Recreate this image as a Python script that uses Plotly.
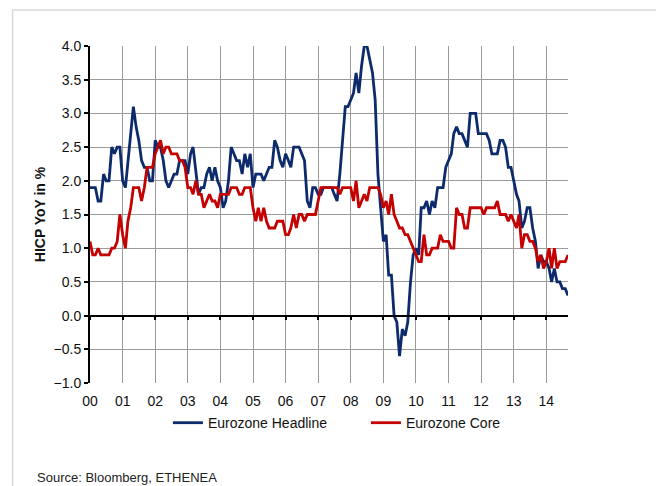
import pandas as pd
import plotly.graph_objects as go

# monthly HICP YoY in %, Jan 2000 - Sep 2014 (one row per year)
headline = [
    1.9, 1.9, 1.9, 1.7, 1.7, 2.1, 2.0, 2.0, 2.5, 2.4, 2.5, 2.5,
    2.0, 1.9, 2.3, 2.7, 3.1, 2.8, 2.6, 2.3, 2.2, 2.2, 2.0, 2.0,
    2.6, 2.5, 2.5, 2.3, 2.0, 1.9, 2.0, 2.1, 2.1, 2.3, 2.3, 2.3,
    2.1, 2.4, 2.5, 2.1, 1.8, 1.9, 1.9, 2.1, 2.2, 2.0, 2.2, 2.0,
    1.9, 1.6, 1.7, 2.0, 2.5, 2.4, 2.3, 2.3, 2.1, 2.4, 2.2, 2.4,
    1.9, 2.1, 2.1, 2.1, 2.0, 2.1, 2.2, 2.2, 2.6, 2.5, 2.3, 2.2,
    2.4, 2.3, 2.2, 2.5, 2.5, 2.5, 2.4, 2.3, 1.7, 1.6, 1.9, 1.9,
    1.8, 1.8, 1.9, 1.9, 1.9, 1.9, 1.8, 1.7, 2.1, 2.6, 3.1, 3.1,
    3.2, 3.3, 3.6, 3.3, 3.7, 4.0, 4.0, 3.8, 3.6, 3.2, 2.1, 1.6,
    1.1, 1.2, 0.6, 0.6, 0.0, -0.1, -0.6, -0.2, -0.3, -0.1, 0.5, 0.9,
    1.0, 0.9, 1.6, 1.6, 1.7, 1.5, 1.7, 1.6, 1.9, 1.9, 1.9, 2.2,
    2.3, 2.4, 2.7, 2.8, 2.7, 2.7, 2.6, 2.5, 3.0, 3.0, 3.0, 2.7,
    2.7, 2.7, 2.7, 2.6, 2.4, 2.4, 2.4, 2.6, 2.6, 2.5, 2.2, 2.2,
    2.0, 1.8, 1.7, 1.3, 1.4, 1.6, 1.6, 1.3, 1.1, 0.7, 0.9, 0.8,
    0.8, 0.7, 0.5, 0.7, 0.5, 0.5, 0.4, 0.4, 0.3,
]

core = [
    1.1, 0.9, 0.9, 1.0, 0.9, 0.9, 0.9, 0.9, 1.0, 1.0, 1.1, 1.5,
    1.2, 1.0, 1.4, 1.6, 1.9, 1.9, 1.9, 1.7, 1.9, 2.2, 2.2, 2.2,
    2.4, 2.5, 2.6, 2.4, 2.5, 2.5, 2.4, 2.4, 2.4, 2.3, 2.3, 2.2,
    1.9, 1.9, 1.8, 2.0, 1.8, 1.8, 1.6, 1.7, 1.8, 1.7, 1.7, 1.6,
    1.8, 1.8, 1.8, 1.8, 1.9, 1.9, 1.9, 1.8, 1.8, 1.9, 1.9, 1.9,
    1.6, 1.4, 1.6, 1.4, 1.6, 1.4, 1.3, 1.3, 1.3, 1.4, 1.4, 1.4,
    1.2, 1.2, 1.3, 1.5, 1.3, 1.5, 1.5, 1.4, 1.5, 1.5, 1.5, 1.5,
    1.7, 1.9, 1.9, 1.9, 1.9, 1.9, 1.9, 1.9, 1.8, 1.9, 1.9, 1.9,
    1.9, 1.7, 2.0, 1.6, 1.7, 1.8, 1.7, 1.9, 1.9, 1.9, 1.9, 1.8,
    1.6, 1.7, 1.5, 1.8, 1.5, 1.4, 1.3, 1.3, 1.2, 1.2, 1.1, 1.0,
    0.9, 0.8, 0.8, 1.2, 0.9, 0.9, 1.0, 1.0, 1.0, 1.2, 1.1, 1.1,
    1.1, 1.0, 1.0, 1.6, 1.5, 1.5, 1.3, 1.3, 1.6, 1.6, 1.6, 1.6,
    1.6, 1.5, 1.6, 1.6, 1.6, 1.6, 1.7, 1.5, 1.5, 1.5, 1.4, 1.5,
    1.4, 1.3, 1.5, 1.0, 1.2, 1.2, 1.1, 1.1, 1.0, 0.8, 0.9, 0.7,
    0.8, 1.0, 0.7, 1.0, 0.7, 0.8, 0.8, 0.8, 0.9,
]

year_labels = ["00", "01", "02", "03", "04", "05", "06", "07",
               "08", "09", "10", "11", "12", "13", "14"]

months = pd.date_range("2000-01-01", periods=len(headline), freq="MS")
year_ticks = [f"20{y}-01-01" for y in year_labels]

FONT = "Liberation Sans, Arial, sans-serif"
GRID = "#9a9a9a"

fig = go.Figure()
fig.add_trace(
    go.Scatter(
        x=months,
        y=headline,
        name="Eurozone Headline",
        mode="lines",
        line=dict(color="#0c2a6c", width=2.8),
    )
)
fig.add_trace(
    go.Scatter(
        x=months,
        y=core,
        name="Eurozone Core",
        mode="lines",
        xaxis="x2",
        line=dict(color="#c40000", width=2.8),
    )
)

x_range = [months[0], months[-1]]

# the page body adds 8px around the figure, so the figure is 8px smaller
fig.update_layout(
    width=656,
    height=478,
    margin=dict(l=82, r=96, t=38, b=103),
    paper_bgcolor="white",
    plot_bgcolor="white",
    font=dict(family=FONT, size=14, color="#111"),
    xaxis=dict(
        range=x_range,
        tickvals=year_ticks,
        ticktext=year_labels,
        showgrid=True,
        gridcolor=GRID,
        gridwidth=1.3,
        showline=False,
        zeroline=False,
        ticks="",
        ticklabelstandoff=8,
        tickfont=dict(size=14),
    ),
    # black axis line with ticks sitting on y = 0
    xaxis2=dict(
        overlaying="x",
        matches="x",
        anchor="free",
        position=0.2,
        side="bottom",
        range=x_range,
        tickvals=year_ticks,
        showticklabels=False,
        showgrid=False,
        zeroline=False,
        showline=True,
        linecolor="black",
        linewidth=2,
        ticks="outside",
        ticklen=3,
        tickwidth=2,
        tickcolor="black",
    ),
    yaxis=dict(
        range=[-1, 4],
        dtick=0.5,
        tick0=0,
        tickformat=".1f",
        showgrid=True,
        gridcolor=GRID,
        gridwidth=1.3,
        zeroline=False,
        showline=True,
        linecolor="black",
        linewidth=2,
        ticks="outside",
        ticklen=4,
        tickwidth=1.5,
        tickcolor="black",
        tickfont=dict(size=14),
        title=dict(
            text="<b>HICP YoY in %</b>",
            font=dict(size=14),
            standoff=5,
        ),
    ),
    legend=dict(
        orientation="h",
        x=0.163,
        y=-0.119,
        xanchor="left",
        yanchor="middle",
        entrywidth=153,
        font=dict(size=14, color="#111"),
        bgcolor="rgba(0,0,0,0)",
    ),
    showlegend=True,
)

# light frame around the whole chart
fig.add_shape(
    type="rect",
    xref="paper",
    yref="paper",
    x0=-0.162,
    x1=1.1946,
    y0=-0.35,
    y1=1.1068,
    line=dict(color="#d9d9d9", width=1.5),
    layer="below",
)

fig.add_annotation(
    text="Source: Bloomberg, ETHENEA",
    xref="paper",
    yref="paper",
    x=-0.115,
    y=-0.279,
    xanchor="left",
    yanchor="middle",
    showarrow=False,
    font=dict(size=13, color="#222"),
)

fig.write_html("out.html")
